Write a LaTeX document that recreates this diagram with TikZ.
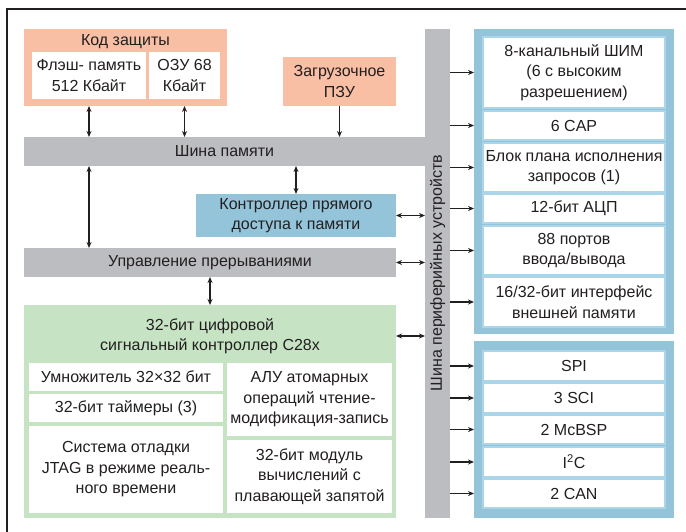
\documentclass[tikz,border=0pt]{standalone}
\usepackage{fontspec}
\setmainfont{Liberation Sans}
\usetikzlibrary{positioning}
\usetikzlibrary{arrows.meta}
\definecolor{salmon}{HTML}{F8BFA5}
\definecolor{busgray}{HTML}{BCBDC0}
\definecolor{dmablue}{HTML}{93C4DA}
\definecolor{grpblue}{HTML}{93C4DA}
\definecolor{linblue}{HTML}{ABD5E9}
\definecolor{cpugreen}{HTML}{C6E4C4}
\definecolor{ink}{HTML}{231F20}
\tikzset{ blk/.style={inner sep=0pt, outer sep=0pt, align=center, text=ink,
            font=\fontsize{16}{20.5}\selectfont},
          membox/.style={blk, fill=salmon},
          busbar/.style={blk, fill=busgray},
          whitebox/.style={blk, fill=white},
          perbox/.style={blk, fill=white, draw=linblue, line width=1.4pt},
          arr/.style={-{Stealth[length=6pt,width=5pt]}, line width=1.1pt, ink},
          darr/.style={{Stealth[length=6pt,width=5pt]}-{Stealth[length=6pt,width=5pt]},
            line width=1.1pt, ink}}
\begin{document}
\begin{tikzpicture}[x=1pt,y=-1pt]
\useasboundingbox (0,0) rectangle (686,532);
\draw[line width=1.3pt, ink] (7,532) -- (7,9) -- (686,9);

% memory side
\node[membox, minimum width=203pt, minimum height=77pt] (code) at (125.5,67.5) {};
\node[blk] (codettl) at (125.5,42) {Код защиты};
\node[whitebox, minimum width=114pt, minimum height=47pt] (flash) at (89,75.5)
  {Флэш- память\\512 Кбайт};
\node[whitebox, minimum width=71pt, minimum height=47pt] (ram) at (184.5,75.5)
  {ОЗУ 68\\Кбайт};
\node[membox, minimum width=113pt, minimum height=49pt] (boot) at (339.5,81.5)
  {Загрузочное\\ПЗУ};
\node[busbar, minimum width=401pt, minimum height=29pt] (membus) at (224.5,151.5)
  {Шина памяти};
\node[busbar, minimum width=25pt, minimum height=489pt] (vbus) at (437.5,273.5) {};
\node[blk, rotate=90] (vbusttl) at (437.5,273) {Шина периферийных устройств};
\node[blk, fill=dmablue, minimum width=200pt, minimum height=43pt] (dma) at (296,215.5)
  {Контроллер прямого\\доступа к памяти};
\node[busbar, minimum width=372pt, minimum height=29pt] (irq) at (210,262.5)
  {Управление прерываниями};

% cpu
\node[blk, fill=cpugreen, minimum width=372pt, minimum height=213pt] (cpu) at (210,411.5) {};
\node[blk] (cputtl) at (210,336) {32-бит цифровой\\сигнальный контроллер C28x};
\node[whitebox, minimum width=194pt, minimum height=28pt] (mult) at (126,377)
  {Умножитель 32×32 бит};
\node[whitebox, minimum width=194pt, minimum height=28pt] (tmr) at (126,408)
  {32-бит таймеры (3)};
\node[whitebox, minimum width=194pt, minimum height=87pt] (jtag) at (126,469.5)
  {Система отладки\\JTAG в режиме реаль-\\ного времени};
\node[whitebox, minimum width=165pt, minimum height=73pt] (alu) at (309.5,399.5)
  {АЛУ атомарных\\операций чтение-\\модификация-запись};
\node[whitebox, minimum width=165pt, minimum height=73pt] (fpu) at (309.5,476.5)
  {32-бит модуль\\вычислений с\\плавающей запятой};

% peripherals
\node[blk, fill=grpblue, minimum width=200pt, minimum height=305pt] (grpa) at (574,181.5) {};
\node[blk, fill=grpblue, minimum width=200pt, minimum height=177pt] (grpb) at (574,429.5) {};
\foreach \nm/\yc/\bh/\txt in {pwm/72.5/71/{8-канальный ШИМ\\(6 с высоким\\разрешением)},
    cap/125.5/29/{6 CAP}, qep/167.5/49/{Блок плана исполнения\\запросов (1)},
    adc/208.5/29/{12-бит АЦП}, gpio/250.5/49/{88 портов\\ввода/вывода},
    xint/302/50/{16/32-бит интерфейс\\внешней памяти},
    spi/366/30/{SPI}, sci/398/30/{3 SCI}, mcbsp/429.5/29/{2 McBSP},
    iic/462/30/{I\textsuperscript{2}C}, can/493.5/29/{2 CAN}}
  \node[perbox, minimum width=182pt, minimum height=\bh pt] (\nm) at (574,\yc) {\txt};

% connectors
\draw[darr] (flash |- code.south) -- (flash |- membus.north);
\draw[darr] (ram |- code.south) -- (ram |- membus.north);
\draw[arr] (boot.south) -- (boot |- membus.north);
\draw[darr] (flash |- membus.south) -- (flash |- irq.north);
\draw[darr] (dma |- membus.south) -- (dma.north);
\draw[darr] (irq.south) -- (irq |- cpu.north);
\draw[darr] (dma.east) -- (vbus.west |- dma);
\draw[darr] (irq.east) -- (vbus.west |- irq);
\draw[darr] (cpu.east |- cputtl) -- (vbus.west |- cputtl);
\foreach \nm in {pwm,cap,qep,adc,gpio,xint}
  \draw[arr] (vbus.east |- \nm) -- (grpa.west |- \nm);
\foreach \nm in {spi,sci,mcbsp,iic,can}
  \draw[arr] (vbus.east |- \nm) -- (grpb.west |- \nm);
\end{tikzpicture}
\end{document}
